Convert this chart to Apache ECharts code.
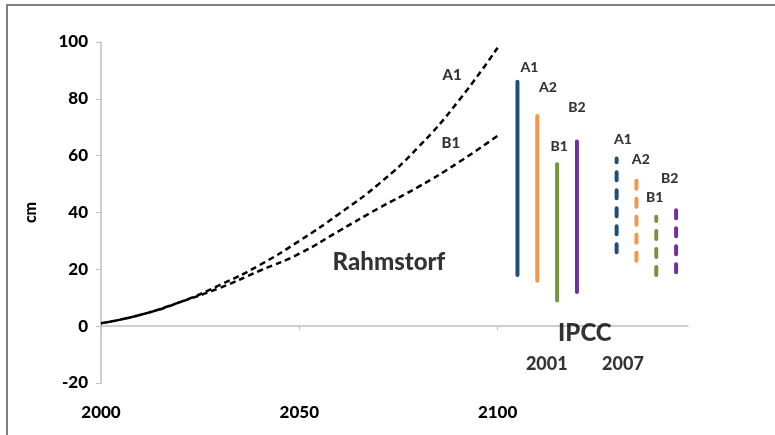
<!DOCTYPE html>
<html>
<head>
<meta charset="utf-8">
<script src="https://cdn.jsdelivr.net/npm/echarts@6/dist/echarts.min.js"></script>
<style>
  html, body { margin: 0; padding: 0; background: #fff; }
  #chart { width: 775px; height: 435px; }
</style>
</head>
<body>
<div id="chart"></div>
<script>
// Rahmstorf projections (cm), year -> rise
const years = [2000, 2010, 2020, 2030, 2040, 2050, 2060, 2070, 2080, 2090, 2100];
const rahmA1 = [1, 4, 8.5, 14.5, 21.5, 30, 39.5, 50, 63, 79, 98];
const rahmB1 = [1, 4, 8.5, 13.5, 19.5, 25.5, 33.5, 41.5, 49, 57.5, 67];

// IPCC ranges: [x position, low, high]
const ipccNames = ["A1", "A2", "B1", "B2"];
const ipcc2001 = [[2105, 18, 86], [2110, 16, 74], [2115, 9, 57], [2120, 12, 65]];
const ipcc2007 = [[2130, 26, 59], [2135, 23, 51.5], [2140, 18, 38.5], [2145, 19, 42]];
const scenarioColors = ["#1f4e79", "#f79646", "#77933c", "#7030a0"];

// text annotations [text, year, cm]
const notes2001 = [["A1", 2108, 91], ["A2", 2112.7, 84], ["B1", 2115.5, 63.3], ["B2", 2120, 77]];
const notes2007 = [["A1", 2131.6, 65.7], ["A2", 2136.1, 58.7], ["B1", 2139.6, 45.3], ["B2", 2143.4, 52]];
const curveNotes = [["A1", 2088.5, 88.3], ["B1", 2088.2, 64.3]];

const FONT = "Lato";
const chart = echarts.init(document.getElementById("chart"));

function rangeSeries(r, i, dashed) {
  return {
    type: "line",
    data: [[r[0], r[1]], [r[0], r[2]]],
    showSymbol: false,
    silent: true,
    lineStyle: {
      color: scenarioColors[i],
      width: 4,
      cap: "round",
      type: dashed ? [8, 10] : "solid"
    }
  };
}

function noteSeries(list, size) {
  return {
    type: "scatter",
    symbolSize: 0,
    silent: true,
    data: list.map(n => ({ value: [n[1], n[2]], name: n[0] })),
    label: {
      show: true,
      position: "inside",
      formatter: p => p.name,
      fontFamily: FONT,
      fontWeight: 900,
      fontSize: size,
      color: "#000"
    }
  };
}

const series = [
  {
    type: "line",
    data: years.map((y, i) => [y, rahmA1[i]]),
    smooth: true,
    showSymbol: false,
    lineStyle: { color: "#000", width: 2.5, type: [6, 4] }
  },
  {
    type: "line",
    data: years.map((y, i) => [y, rahmB1[i]]),
    smooth: true,
    showSymbol: false,
    lineStyle: { color: "#000", width: 2.5, type: [6, 4], dashOffset: 5 }
  }
];
ipcc2001.forEach((r, i) => series.push(rangeSeries(r, i, false)));
ipcc2007.forEach((r, i) => series.push(rangeSeries(r, i, true)));
series.push(noteSeries(notes2001, 14));
series.push(noteSeries(notes2007, 14));
series.push(noteSeries(curveNotes, 15));
series.push(noteSeries([["Rahmstorf", 2072.6, 22.5]], 24));
series.push(noteSeries([["IPCC", 2122, -2.5]], 24));
series.push(noteSeries([["2001", 2112.4, -13.4], ["2007", 2131.6, -13.4]], 18));

chart.setOption({
  animation: false,
  grid: { left: 101, right: 87, top: 42, bottom: 52 },
  xAxis: {
    type: "value",
    min: 2000,
    max: 2148,
    interval: 50,
    splitLine: { show: false },
    axisLine: { lineStyle: { color: "#bfbfbf", width: 1.5 } },
    axisTick: { show: true, length: 4, inside: false, lineStyle: { color: "#bfbfbf" } },
    axisLabel: {
      showMaxLabel: false,
      margin: 21,
      formatter: v => String(v),
      fontFamily: FONT,
      fontWeight: 900,
      fontSize: 17,
      color: "#000"
    }
  },
  yAxis: {
    type: "value",
    min: -20,
    max: 100,
    interval: 20,
    name: "cm",
    nameLocation: "middle",
    nameGap: 62,
    nameTextStyle: { fontFamily: FONT, fontWeight: 900, fontSize: 16, color: "#000" },
    splitLine: { show: false },
    axisLine: { show: true, lineStyle: { color: "#bfbfbf", width: 1.5 } },
    axisTick: { show: true, length: 5, lineStyle: { color: "#bfbfbf" } },
    axisLabel: {
      margin: 13,
      fontFamily: FONT,
      fontWeight: 900,
      fontSize: 17,
      color: "#000"
    }
  },
  graphic: [
    {
      type: "polyline",
      shape: { points: [[7, 440], [7, 5], [780, 5]] },
      style: { stroke: "#7f7f7f", lineWidth: 2, fill: null }
    }
  ],
  series: series
});
</script>
</body>
</html>
